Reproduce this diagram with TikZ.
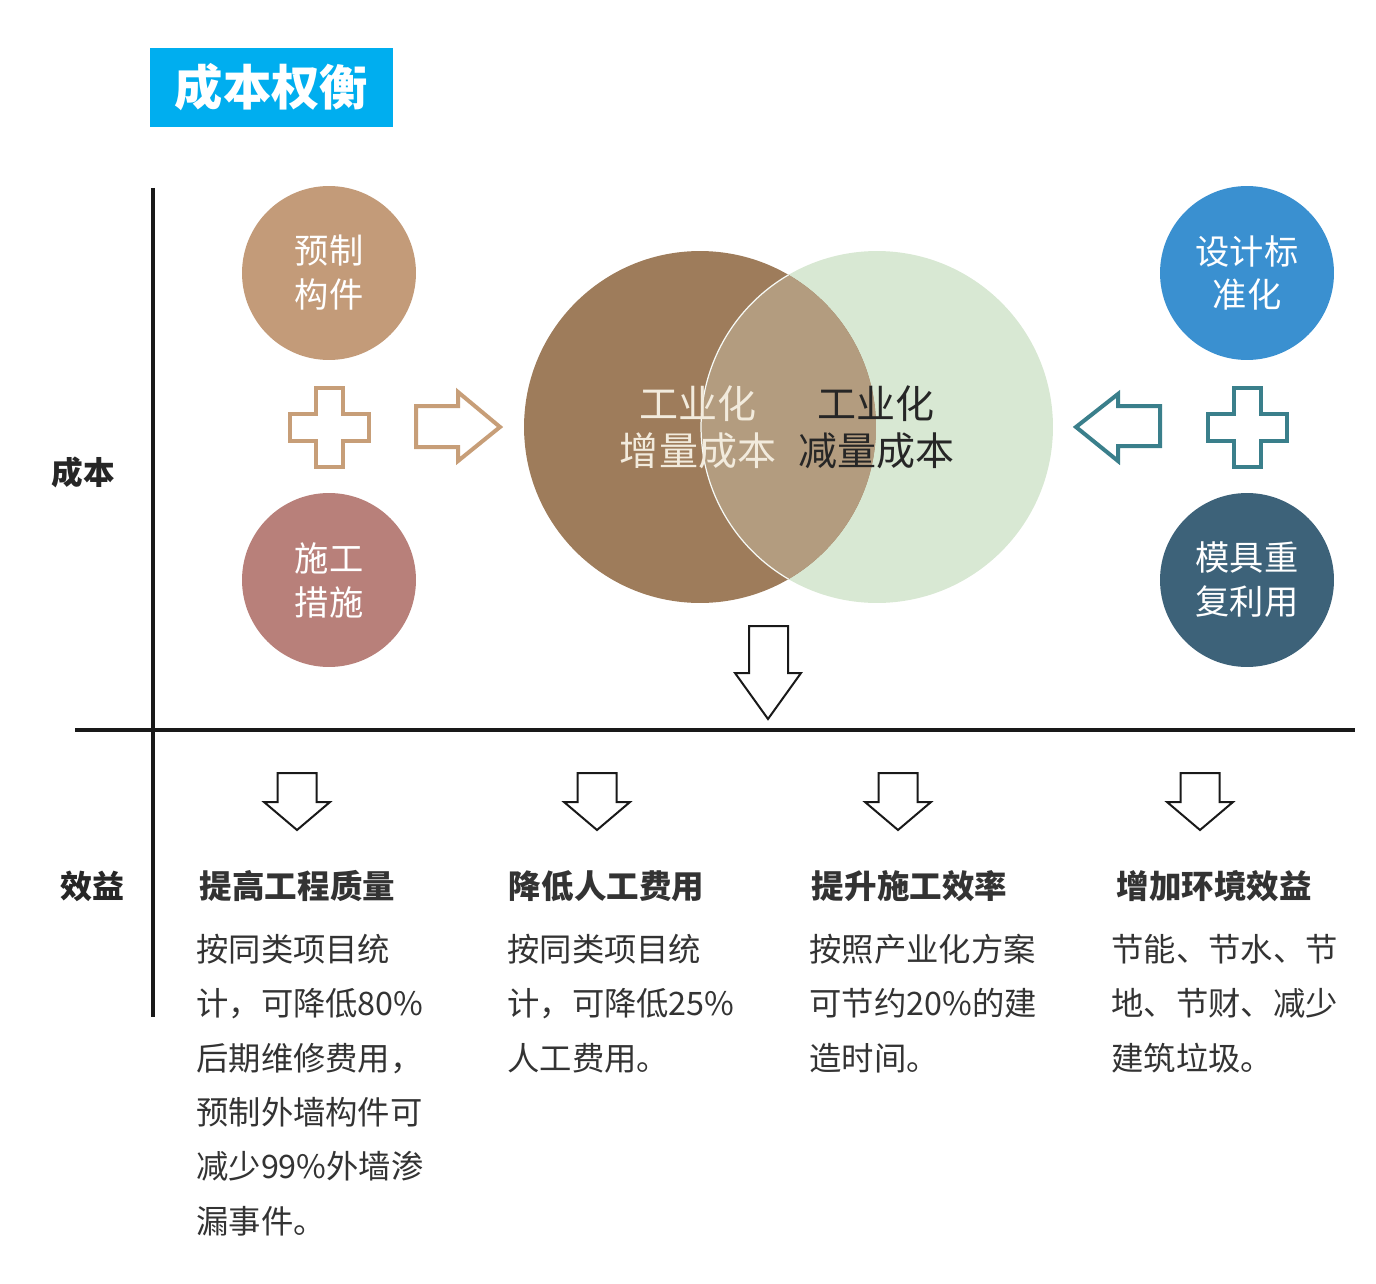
\documentclass[tikz,border=0pt]{standalone}
\usepackage{fontspec}
\setmainfont{Noto Sans CJK SC}
\usetikzlibrary{positioning}
\definecolor{TitleBlue}{HTML}{00AEEF}
\definecolor{Tan}{HTML}{C39B79}
\definecolor{Rose}{HTML}{B8807A}
\definecolor{TanLine}{HTML}{C79E78}
\definecolor{Brown}{HTML}{9E7C5B}
\definecolor{Sage}{HTML}{D8E8D3}
\definecolor{Overlap}{HTML}{B39C7F}
\definecolor{SkyBlue}{HTML}{3A90D0}
\definecolor{Slate}{HTML}{3D6279}
\definecolor{TealLine}{HTML}{3A7F8B}
\definecolor{Cream}{HTML}{F2EBDD}
\definecolor{Ink}{HTML}{333333}

\begin{document}
\begin{tikzpicture}[x=0.02cm, y=-0.02cm,
  dot/.style={circle, minimum size=3.48cm, inner sep=0pt, align=center, text=white,
    font=\fontsize{19.5}{25}\selectfont},
  bigtext/.style={align=center, inner sep=0pt, font=\fontsize{22.2}{26.7}\selectfont},
  heading/.style={inner sep=0pt, text=Ink, font=\bfseries\fontsize{18.5}{22}\selectfont},
  body/.style={anchor=north west, align=left, inner sep=0pt, text=Ink,
    font=\fontsize{18.4}{30.9}\selectfont},
  outline/.style={line width=0.08cm, fill=white, line join=miter},
  downarrow/.style={line width=0.04cm, draw=black!90, fill=white, line join=miter},
  axis/.style={line width=0.08cm, draw=black!90}]

\useasboundingbox (0,0) rectangle (1376,1284);

% title
\node[fill=TitleBlue, minimum width=4.86cm, minimum height=1.58cm, inner sep=0pt,
  text=white, font=\bfseries\fontsize{27.5}{30}\selectfont] (title) at (271.5,87.5) {成本权衡};

% axes
\coordinate (ytop) at (153,188);
\coordinate (ybot) at (153,1017);
\coordinate (xleft) at (75,730);
\coordinate (xright) at (1355,730);
\draw[axis] (ytop) -- (ybot);
\draw[axis] (xleft) -- (xright);

\node[heading, text=black!85, font=\bfseries\fontsize{18}{22}\selectfont] (chengben) at (83.5,472) {成本};
\node[heading, text=black!85, font=\bfseries\fontsize{18.2}{22}\selectfont] (xiaoyi) at (92,886) {效益};

% small circles
\node[dot, fill=Tan] (yuzhi) at (329,273) {预制\\构件};
\node[dot, fill=Rose] (shigong) at (329,580) {施工\\措施};
\node[dot, fill=SkyBlue] (sheji) at (1247,273) {设计标\\准化};
\node[dot, fill=Slate] (muju) at (1247,580) {模具重\\复利用};

% plus signs
\foreach \cx/\col in {329.5/TanLine, 1247/TealLine}
  \draw[outline, draw=\col] (\cx-39.5,413.5) -- ++(26,0) -- ++(0,-26) -- ++(27,0) -- ++(0,26)
    -- ++(26,0) -- ++(0,27) -- ++(-26,0) -- ++(0,26) -- ++(-27,0) -- ++(0,-26) -- ++(-26,0) -- cycle;

% side arrows
\draw[outline, draw=TanLine] (416,406) -- (458,406) -- (458,392) -- (500,427) -- (458,461)
  -- (458,447) -- (416,447) -- cycle;
\draw[outline, draw=TealLine] (1160,406) -- (1118,406) -- (1118,394) -- (1076,427) -- (1118,461)
  -- (1118,446) -- (1160,446) -- cycle;

% venn
\fill[Sage] (877,427) circle (3.52cm);
\fill[Brown] (700,427) circle (3.52cm);
\begin{scope}
  \clip (700,427) circle (3.52cm);
  \fill[Overlap] (877,427) circle (3.52cm);
  \draw[white!80!Sage, line width=0.7pt] (877,427) circle (3.52cm);
\end{scope}
\node[bigtext, text=Cream] (zengliang) at (698,427) {工业化\\增量成本};
\node[bigtext, text=black!85] (jianliang) at (876,427) {工业化\\减量成本};

% down arrows
\draw[downarrow] (749,626) -- (788,626) -- (788,673) -- (801,673) -- (768,719) -- (735,673)
  -- (749,673) -- cycle;
\foreach \cx in {297,597,898,1200}
  \draw[downarrow] (\cx-19.5,773) -- (\cx+19.5,773) -- (\cx+19.5,802) -- (\cx+33,802)
    -- (\cx,830) -- (\cx-33,802) -- (\cx-19.5,802) -- cycle;

% benefits
\node[heading] (zhiliang) at (297.5,886) {提高工程质量};
\node[heading] (rengong) at (606.5,886) {降低人工费用};
\node[heading] (xiaolv) at (909.5,886) {提升施工效率};
\node[heading] (huanjing) at (1214,886) {增加环境效益};

\node[body] (zhiliangtext) at (196,934) {按同类项目统\\计，可降低80\%\\后期维修费用，\\预制外墙构件可\\减少99\%外墙渗\\漏事件。};
\node[body] (rengongtext) at (507,934) {按同类项目统\\计，可降低25\%\\人工费用。};
\node[body] (xiaolvtext) at (809,934) {按照产业化方案\\可节约20\%的建\\造时间。};
\node[body] (huanjingtext) at (1111,934) {节能、节水、节\\地、节财、减少\\建筑垃圾。};

\end{tikzpicture}
\end{document}
